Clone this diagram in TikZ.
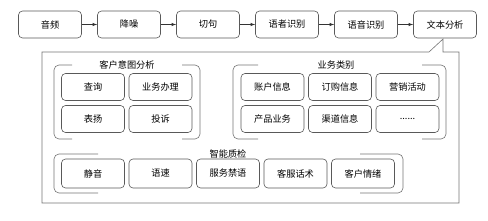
\documentclass[tikz,border=0pt]{standalone}
\usepackage{fontspec}
\setmainfont{Noto Sans CJK SC}
\begin{document}
\begin{tikzpicture}[>=latex,x=1pt,y=-1pt,
  box/.style={draw=black!65,line width=0.6pt,rounded corners=4pt,minimum width=63pt,minimum height=27pt,inner sep=0pt,font=\fontsize{9.2}{10}\selectfont},
  grp/.style={draw=black!55,line width=0.6pt,rounded corners=5pt},
  ttl/.style={inner sep=1pt,font=\fontsize{9.2}{10}\selectfont}]
  \useasboundingbox (0,0) rectangle (488,221);
  \foreach \name/\txt [count=\i from 0] in {yp/音频,jz/降噪,qj/切句,sz/语者识别,yy/语音识别,wb/文本分析}
    \node[box] (\name) at (50+79*\i,24.5) {\txt};
  \foreach \a/\b in {yp/jz,jz/qj,qj/sz,sz/yy,yy/wb}
    \draw[->,black!80,line width=0.6pt] (\a) -- (\b);
  \draw[black!55,line width=0.6pt] (42,52) -- (429,52) -- (443,39) -- (443,52) -- (459,52) -- (459,203) -- (42,203) -- cycle;
  \draw[grp] (72,65) -- (54,65) -- (54,139) -- (72,139);
  \draw[grp] (182,65) -- (200,65) -- (200,139) -- (182,139);
  \node[ttl] (khyt) at (127,65) {客户意图分析};
  \node[box] (cx) at (93,87) {查询};
  \node[box] (ywbl) at (160.5,87) {业务办理};
  \node[box] (by) at (93,119) {表扬};
  \node[box] (ts) at (160.5,119) {投诉};
  \draw[grp] (258,65) -- (233,65) -- (233,139) -- (258,139);
  \draw[grp] (422,65) -- (446,65) -- (446,139) -- (422,139);
  \node[ttl] (ywlb) at (336,65) {业务类别};
  \foreach \name/\txt [count=\i from 0] in {zh/账户信息,dg/订购信息,yx/营销活动}
    \node[box] (\name) at (272.5+67.5*\i,87) {\txt};
  \node[box] (cp) at (272.5,119) {产品业务};
  \node[box] (qd) at (340,119) {渠道信息};
  \node[box] (qt) at (407.5,119) {......};
  \draw[grp] (98,154) -- (54,154) -- (54,193) -- (98,193);
  \draw[grp] (360,154) -- (403,154) -- (403,193) -- (360,193);
  \node[ttl] (znzj) at (228,154) {智能质检};
  \foreach \name/\txt [count=\i from 0] in {jy/静音,ys/语速,fwjy/服务禁语,kfhs/客服话术,khqx/客户情绪}
    \node[box,minimum height=29pt] (\name) at (93+67.5*\i,173.5) {\txt};
\end{tikzpicture}
\end{document}
